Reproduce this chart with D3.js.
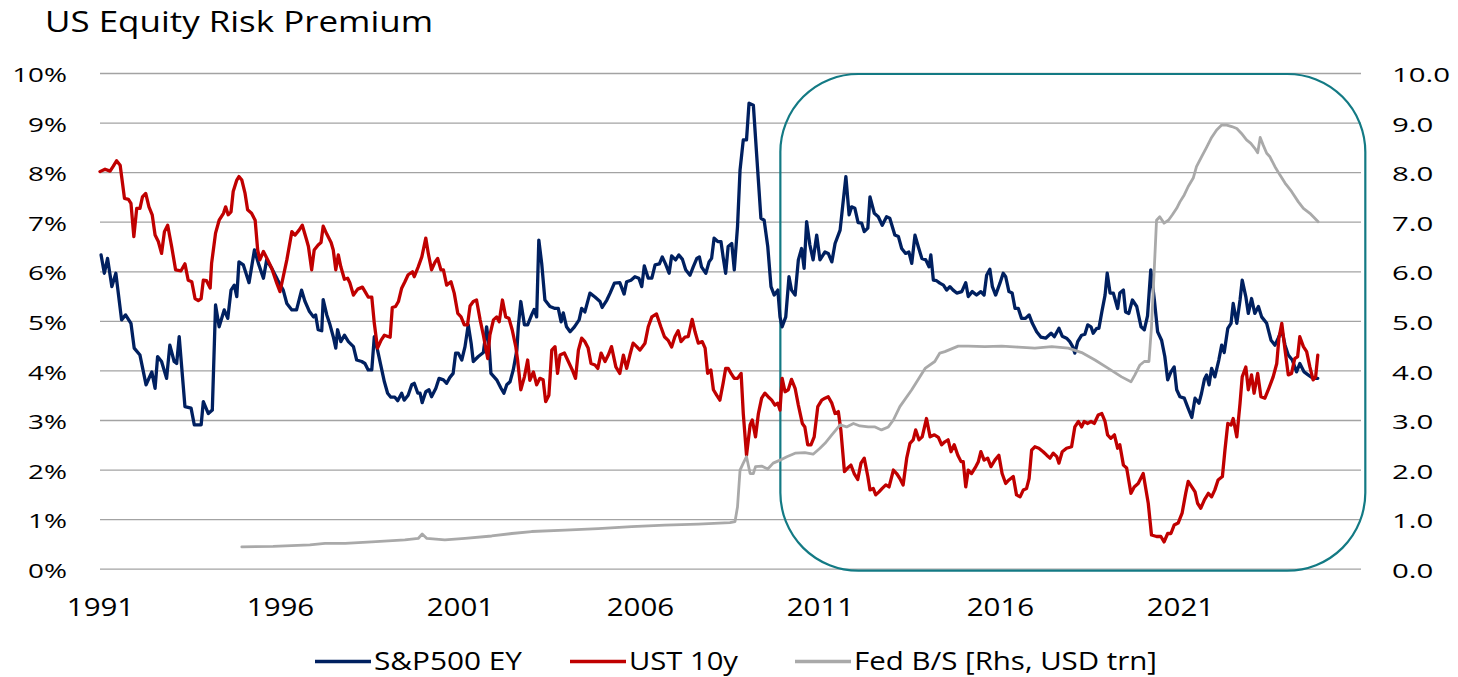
<!DOCTYPE html>
<html><head><meta charset="utf-8">
<script src="https://cdn.jsdelivr.net/npm/d3@7"></script>
<style>
html,body{margin:0;padding:0;background:#fff;}
svg{display:block;}
text{font-family:"Open Sans",sans-serif;fill:#000;}
</style></head><body>
<svg id="chart" width="1458" height="677"></svg>
<script>
// ---------- DATA ----------
const chartTitle = "US Equity Risk Premium";
const xTickYears = [1991, 1996, 2001, 2006, 2011, 2016, 2021];
const leftTicks = [0,1,2,3,4,5,6,7,8,9,10];      // % (left axis)
const rightTicks = [0,1,2,3,4,5,6,7,8,9,10];     // USD trn (right axis)
const seriesNames = ["S&P500 EY", "UST 10y", "Fed B/S [Rhs, USD trn]"];
const highlightYears = [2009.9, 2026.15];        // rounded box annotation

const spxEY = [[1991.03,6.33],[1991.12,5.96],[1991.21,6.26],[1991.33,5.69],[1991.44,5.96],[1991.60,5.02],[1991.71,5.12],[1991.86,4.95],[1991.95,4.45],[1992.11,4.31],[1992.28,3.71],[1992.44,3.97],[1992.53,3.64],[1992.60,4.28],[1992.71,4.18],[1992.85,3.84],[1992.94,4.51],[1993.06,4.18],[1993.13,4.14],[1993.20,4.68],[1993.36,3.27],[1993.53,3.24],[1993.62,2.90],[1993.81,2.90],[1993.87,3.37],[1994.01,3.13],[1994.12,3.20],[1994.21,5.32],[1994.31,4.88],[1994.45,5.22],[1994.55,5.05],[1994.64,5.62],[1994.73,5.72],[1994.80,5.49],[1994.86,6.19],[1994.98,6.13],[1995.14,5.77],[1995.29,6.43],[1995.40,6.16],[1995.54,5.86],[1995.63,6.23],[1995.77,6.06],[1995.94,5.82],[1996.09,5.62],[1996.19,5.35],[1996.33,5.22],[1996.46,5.22],[1996.60,5.62],[1996.69,5.40],[1996.81,5.20],[1996.93,5.08],[1996.99,5.12],[1997.06,4.82],[1997.16,4.80],[1997.20,5.43],[1997.30,5.12],[1997.39,4.92],[1997.48,4.68],[1997.55,4.45],[1997.60,4.82],[1997.69,4.58],[1997.79,4.71],[1997.90,4.58],[1998.04,4.48],[1998.13,4.21],[1998.27,4.18],[1998.36,4.14],[1998.45,4.01],[1998.55,4.01],[1998.62,4.68],[1998.71,4.41],[1998.81,4.07],[1998.90,3.77],[1998.99,3.54],[1999.08,3.46],[1999.19,3.46],[1999.27,3.39],[1999.38,3.54],[1999.45,3.40],[1999.56,3.50],[1999.66,3.71],[1999.73,3.74],[1999.83,3.54],[1999.89,3.54],[1999.95,3.35],[2000.05,3.57],[2000.14,3.61],[2000.21,3.47],[2000.33,3.64],[2000.42,3.84],[2000.54,3.81],[2000.63,3.74],[2000.72,3.86],[2000.81,3.94],[2000.88,4.35],[2000.95,4.35],[2001.05,4.21],[2001.14,4.48],[2001.23,4.92],[2001.31,4.55],[2001.37,4.18],[2001.51,4.28],[2001.65,4.36],[2001.74,4.88],[2001.81,4.48],[2001.86,3.94],[2002.02,3.81],[2002.14,3.64],[2002.22,3.54],[2002.30,3.71],[2002.39,3.77],[2002.48,4.01],[2002.58,4.41],[2002.62,4.88],[2002.69,5.39],[2002.79,4.92],[2002.88,4.92],[2002.99,5.12],[2003.06,5.23],[2003.13,5.08],[2003.19,6.63],[2003.27,6.16],[2003.36,5.42],[2003.50,5.29],[2003.64,5.25],[2003.73,5.25],[2003.81,4.98],[2003.87,5.16],[2003.96,4.88],[2004.06,4.78],[2004.18,4.88],[2004.31,5.02],[2004.38,5.25],[2004.47,5.18],[2004.61,5.56],[2004.75,5.48],[2004.89,5.39],[2004.95,5.27],[2005.08,5.42],[2005.17,5.56],[2005.29,5.76],[2005.44,5.77],[2005.56,5.54],[2005.63,5.79],[2005.75,5.82],[2005.86,5.89],[2005.97,5.86],[2006.05,5.69],[2006.12,6.11],[2006.23,5.86],[2006.33,5.86],[2006.42,6.13],[2006.54,6.15],[2006.62,6.29],[2006.71,6.15],[2006.81,5.96],[2006.88,6.31],[2006.99,6.23],[2007.08,6.33],[2007.18,6.24],[2007.27,6.03],[2007.39,5.92],[2007.48,6.09],[2007.58,6.26],[2007.65,6.29],[2007.71,6.09],[2007.83,5.96],[2007.92,6.19],[2007.99,6.26],[2008.06,6.67],[2008.16,6.60],[2008.25,6.60],[2008.31,6.29],[2008.38,5.96],[2008.45,6.50],[2008.55,6.56],[2008.62,6.03],[2008.71,6.90],[2008.78,8.04],[2008.87,8.65],[2008.96,8.65],[2009.03,9.39],[2009.15,9.35],[2009.24,8.37],[2009.36,7.07],[2009.45,7.03],[2009.55,6.50],[2009.64,5.69],[2009.73,5.52],[2009.83,5.62],[2009.89,5.08],[2009.95,4.88],[2010.05,5.08],[2010.14,5.89],[2010.21,5.62],[2010.31,5.52],[2010.40,6.23],[2010.49,6.46],[2010.56,6.06],[2010.63,7.00],[2010.72,6.53],[2010.81,6.23],[2010.91,6.73],[2011.00,6.23],[2011.14,6.39],[2011.23,6.36],[2011.33,6.19],[2011.42,6.56],[2011.56,6.83],[2011.62,7.24],[2011.72,7.91],[2011.81,7.14],[2011.88,7.30],[2011.97,7.27],[2012.06,6.98],[2012.16,6.97],[2012.23,6.80],[2012.33,6.87],[2012.39,7.50],[2012.51,7.17],[2012.62,7.10],[2012.73,6.93],[2012.85,7.10],[2012.94,7.07],[2013.08,6.73],[2013.18,6.70],[2013.27,6.46],[2013.38,6.36],[2013.47,6.39],[2013.55,6.16],[2013.64,6.73],[2013.73,6.50],[2013.83,6.26],[2013.94,6.23],[2014.03,6.09],[2014.08,6.33],[2014.15,5.82],[2014.24,5.81],[2014.33,5.76],[2014.43,5.72],[2014.52,5.62],[2014.61,5.69],[2014.70,5.62],[2014.80,5.56],[2014.94,5.59],[2015.05,5.77],[2015.12,5.49],[2015.23,5.59],[2015.35,5.52],[2015.47,5.59],[2015.56,5.52],[2015.63,5.92],[2015.72,6.04],[2015.79,5.69],[2015.88,5.52],[2016.00,5.76],[2016.09,5.96],[2016.16,5.89],[2016.25,5.59],[2016.34,5.56],[2016.42,5.25],[2016.51,5.25],[2016.60,5.05],[2016.71,5.05],[2016.81,5.12],[2016.90,4.95],[2017.02,4.78],[2017.14,4.67],[2017.27,4.65],[2017.42,4.75],[2017.51,4.68],[2017.64,4.85],[2017.73,4.69],[2017.85,4.65],[2017.94,4.58],[2018.02,4.48],[2018.08,4.35],[2018.16,4.58],[2018.27,4.71],[2018.36,4.73],[2018.44,4.92],[2018.53,4.88],[2018.59,4.75],[2018.69,4.85],[2018.75,4.85],[2018.83,5.18],[2018.92,5.52],[2018.98,5.96],[2019.06,5.56],[2019.15,5.56],[2019.27,5.25],[2019.33,5.56],[2019.43,5.62],[2019.49,5.18],[2019.58,5.15],[2019.68,5.42],[2019.80,5.29],[2019.92,4.88],[2020.01,4.82],[2020.10,5.10],[2020.19,6.03],[2020.29,5.42],[2020.38,4.78],[2020.49,4.61],[2020.58,4.28],[2020.66,3.81],[2020.75,3.97],[2020.84,4.07],[2020.91,3.61],[2021.00,3.47],[2021.12,3.44],[2021.21,3.27],[2021.33,3.05],[2021.42,3.44],[2021.53,3.34],[2021.60,3.54],[2021.68,3.82],[2021.74,3.91],[2021.81,3.71],[2021.88,4.04],[2021.97,3.87],[2022.08,4.21],[2022.16,4.51],[2022.23,4.36],[2022.33,4.85],[2022.42,4.95],[2022.48,5.35],[2022.58,4.95],[2022.67,5.42],[2022.73,5.82],[2022.83,5.49],[2022.90,5.15],[2022.99,5.45],[2023.08,5.15],[2023.18,5.29],[2023.27,5.08],[2023.41,4.95],[2023.53,4.61],[2023.64,4.51],[2023.73,4.65],[2023.83,4.82],[2023.92,4.51],[2024.01,4.31],[2024.12,4.21],[2024.24,3.97],[2024.33,4.14],[2024.45,3.97],[2024.56,3.91],[2024.70,3.84],[2024.83,3.84]];

const ust10y = [[1991.00,8.01],[1991.14,8.06],[1991.28,8.02],[1991.37,8.12],[1991.46,8.23],[1991.56,8.14],[1991.68,7.47],[1991.79,7.45],[1991.86,7.37],[1991.94,6.70],[1992.02,7.27],[1992.11,7.27],[1992.18,7.50],[1992.27,7.57],[1992.36,7.30],[1992.45,7.14],[1992.53,6.73],[1992.62,6.60],[1992.71,6.36],[1992.79,6.80],[1992.88,6.93],[1992.99,6.50],[1993.10,6.03],[1993.25,6.01],[1993.36,6.15],[1993.45,5.82],[1993.55,5.79],[1993.64,5.45],[1993.73,5.41],[1993.81,5.45],[1993.87,5.82],[1993.96,5.81],[1994.06,5.66],[1994.10,6.16],[1994.21,6.77],[1994.31,7.03],[1994.43,7.17],[1994.49,7.30],[1994.56,7.14],[1994.64,7.20],[1994.70,7.61],[1994.80,7.84],[1994.86,7.91],[1994.94,7.84],[1995.03,7.57],[1995.10,7.24],[1995.21,7.17],[1995.31,7.03],[1995.38,6.43],[1995.44,6.23],[1995.54,6.40],[1995.66,6.23],[1995.77,6.06],[1995.91,5.76],[1996.00,5.59],[1996.09,5.89],[1996.19,6.23],[1996.33,6.80],[1996.42,6.73],[1996.53,6.83],[1996.62,6.93],[1996.74,6.63],[1996.79,6.50],[1996.88,6.03],[1996.95,6.43],[1997.06,6.53],[1997.14,6.58],[1997.20,6.91],[1997.30,6.75],[1997.42,6.58],[1997.48,6.43],[1997.55,6.03],[1997.62,6.33],[1997.69,6.09],[1997.79,5.84],[1997.88,5.86],[1997.94,5.77],[1998.04,5.52],[1998.16,5.64],[1998.29,5.68],[1998.38,5.57],[1998.45,5.48],[1998.55,5.48],[1998.62,4.95],[1998.71,4.45],[1998.81,4.61],[1998.90,4.71],[1999.06,4.67],[1999.12,5.27],[1999.21,5.29],[1999.29,5.39],[1999.38,5.66],[1999.47,5.79],[1999.56,5.93],[1999.68,5.99],[1999.73,5.89],[1999.84,6.09],[1999.94,6.29],[2000.05,6.67],[2000.12,6.36],[2000.21,6.03],[2000.31,6.19],[2000.38,6.26],[2000.47,6.03],[2000.54,6.03],[2000.63,5.72],[2000.75,5.79],[2000.84,5.56],[2000.94,5.15],[2001.03,5.08],[2001.12,4.92],[2001.21,4.92],[2001.28,5.30],[2001.37,5.39],[2001.46,5.42],[2001.56,5.02],[2001.65,4.71],[2001.77,4.24],[2001.83,4.71],[2001.93,5.02],[2002.02,5.08],[2002.09,4.98],[2002.18,5.42],[2002.27,5.08],[2002.36,5.05],[2002.45,4.82],[2002.55,4.48],[2002.60,4.21],[2002.69,3.61],[2002.79,3.87],[2002.88,4.21],[2002.94,3.80],[2003.04,3.97],[2003.13,3.71],[2003.22,3.84],[2003.31,3.81],[2003.38,3.37],[2003.47,3.50],[2003.55,4.41],[2003.64,4.48],[2003.71,3.94],[2003.78,4.31],[2003.90,4.35],[2004.01,4.18],[2004.12,4.01],[2004.21,3.84],[2004.29,4.41],[2004.38,4.65],[2004.47,4.58],[2004.56,4.45],[2004.64,4.14],[2004.75,4.11],[2004.83,4.04],[2004.92,4.35],[2005.03,4.18],[2005.12,4.31],[2005.21,4.48],[2005.33,4.07],[2005.44,3.94],[2005.54,4.31],[2005.63,4.04],[2005.72,4.31],[2005.81,4.55],[2005.91,4.48],[2006.00,4.41],[2006.14,4.55],[2006.23,4.88],[2006.33,5.08],[2006.46,5.14],[2006.58,4.88],[2006.68,4.68],[2006.79,4.60],[2006.88,4.47],[2006.97,4.68],[2007.06,4.80],[2007.14,4.58],[2007.25,4.67],[2007.34,4.68],[2007.45,5.03],[2007.53,4.78],[2007.62,4.55],[2007.73,4.58],[2007.81,4.45],[2007.88,3.94],[2007.97,4.01],[2008.04,3.61],[2008.13,3.50],[2008.22,3.40],[2008.31,3.74],[2008.38,4.04],[2008.45,4.04],[2008.53,3.94],[2008.62,3.84],[2008.71,3.84],[2008.81,3.94],[2008.87,3.13],[2008.96,2.29],[2009.06,2.90],[2009.12,3.00],[2009.21,2.66],[2009.29,3.13],[2009.38,3.44],[2009.47,3.54],[2009.56,3.47],[2009.66,3.40],[2009.75,3.30],[2009.83,3.34],[2009.89,3.20],[2009.95,3.84],[2010.03,3.57],[2010.12,3.61],[2010.21,3.82],[2010.31,3.64],[2010.40,3.30],[2010.51,2.93],[2010.58,2.86],[2010.66,2.50],[2010.75,2.50],[2010.84,2.66],[2010.94,3.27],[2011.05,3.40],[2011.14,3.44],[2011.23,3.47],[2011.33,3.34],[2011.42,3.13],[2011.51,3.17],[2011.58,2.80],[2011.68,1.96],[2011.77,2.03],[2011.86,2.09],[2011.95,1.92],[2012.05,1.80],[2012.14,2.13],[2012.23,2.23],[2012.33,1.86],[2012.39,1.59],[2012.48,1.62],[2012.55,1.49],[2012.64,1.55],[2012.73,1.62],[2012.83,1.69],[2012.92,1.65],[2013.04,1.99],[2013.13,1.92],[2013.22,1.82],[2013.31,1.69],[2013.41,2.23],[2013.50,2.53],[2013.59,2.60],[2013.66,2.80],[2013.75,2.60],[2013.84,2.66],[2013.96,3.03],[2014.06,2.66],[2014.18,2.70],[2014.29,2.65],[2014.38,2.50],[2014.47,2.56],[2014.56,2.60],[2014.64,2.36],[2014.73,2.50],[2014.83,2.29],[2014.92,2.16],[2014.98,2.16],[2015.05,1.65],[2015.12,1.99],[2015.21,1.92],[2015.33,2.06],[2015.40,2.16],[2015.47,2.36],[2015.56,2.19],[2015.66,2.23],[2015.75,2.06],[2015.86,2.19],[2015.97,2.29],[2016.06,1.92],[2016.16,1.72],[2016.25,1.79],[2016.37,1.86],[2016.46,1.49],[2016.56,1.45],[2016.65,1.59],[2016.74,1.62],[2016.81,1.82],[2016.88,2.39],[2016.97,2.46],[2017.08,2.43],[2017.20,2.36],[2017.30,2.29],[2017.39,2.23],[2017.48,2.33],[2017.58,2.26],[2017.64,2.13],[2017.73,2.36],[2017.85,2.43],[2017.99,2.46],[2018.08,2.86],[2018.18,2.97],[2018.27,2.86],[2018.34,2.97],[2018.44,2.93],[2018.53,2.97],[2018.62,2.93],[2018.73,3.10],[2018.83,3.13],[2018.92,2.97],[2018.99,2.70],[2019.08,2.63],[2019.18,2.70],[2019.27,2.43],[2019.33,2.50],[2019.43,2.09],[2019.52,2.03],[2019.64,1.52],[2019.73,1.65],[2019.84,1.72],[2019.98,1.92],[2020.12,1.32],[2020.21,0.68],[2020.35,0.65],[2020.47,0.65],[2020.56,0.54],[2020.66,0.71],[2020.75,0.71],[2020.84,0.88],[2020.95,0.92],[2021.06,1.12],[2021.16,1.52],[2021.23,1.76],[2021.33,1.65],[2021.42,1.55],[2021.49,1.32],[2021.58,1.22],[2021.68,1.39],[2021.79,1.52],[2021.88,1.45],[2021.97,1.59],[2022.06,1.79],[2022.18,1.86],[2022.25,2.39],[2022.33,2.93],[2022.42,2.90],[2022.48,3.03],[2022.58,2.66],[2022.67,3.34],[2022.73,3.87],[2022.83,4.07],[2022.90,3.61],[2022.99,3.91],[2023.06,3.54],[2023.16,3.94],[2023.25,3.47],[2023.36,3.44],[2023.47,3.64],[2023.59,3.87],[2023.69,4.14],[2023.75,4.65],[2023.83,4.95],[2023.92,4.41],[2024.01,3.91],[2024.10,3.94],[2024.19,4.24],[2024.27,4.28],[2024.33,4.68],[2024.43,4.48],[2024.52,4.38],[2024.61,4.07],[2024.70,3.81],[2024.77,3.87],[2024.83,4.31]];

const fedBS = [[1994.94,0.44],[1995.81,0.45],[1996.83,0.48],[1997.25,0.51],[1997.81,0.51],[1998.55,0.54],[1999.47,0.58],[1999.84,0.61],[1999.95,0.70],[2000.08,0.61],[2000.58,0.58],[2001.14,0.61],[2001.88,0.66],[2002.44,0.71],[2002.99,0.75],[2003.92,0.78],[2004.84,0.81],[2005.77,0.85],[2006.69,0.88],[2007.62,0.90],[2008.50,0.93],[2008.64,0.95],[2008.71,1.25],[2008.78,1.99],[2008.87,2.13],[2008.96,2.26],[2009.06,1.92],[2009.15,1.92],[2009.21,2.06],[2009.38,2.07],[2009.55,2.01],[2009.70,2.13],[2009.89,2.19],[2010.08,2.26],[2010.31,2.33],[2010.58,2.34],[2010.81,2.31],[2011.00,2.43],[2011.14,2.53],[2011.33,2.70],[2011.56,2.90],[2011.74,2.86],[2011.93,2.93],[2012.11,2.88],[2012.34,2.86],[2012.53,2.86],[2012.71,2.80],[2012.90,2.86],[2013.04,3.00],[2013.22,3.27],[2013.55,3.61],[2013.92,4.04],[2014.19,4.18],[2014.33,4.35],[2014.47,4.38],[2014.84,4.49],[2015.12,4.49],[2015.58,4.48],[2016.05,4.49],[2016.51,4.47],[2016.97,4.45],[2017.44,4.48],[2017.90,4.45],[2018.27,4.36],[2018.64,4.21],[2019.01,4.04],[2019.38,3.87],[2019.64,3.77],[2019.75,3.91],[2019.89,4.11],[2020.01,4.18],[2020.14,4.18],[2020.21,4.88],[2020.29,6.09],[2020.35,7.03],[2020.44,7.10],[2020.56,6.97],[2020.68,7.03],[2020.79,7.14],[2020.91,7.27],[2021.00,7.40],[2021.12,7.54],[2021.23,7.71],[2021.37,7.88],[2021.46,8.11],[2021.60,8.31],[2021.74,8.50],[2021.88,8.70],[2022.02,8.85],[2022.16,8.95],[2022.30,8.95],[2022.44,8.92],[2022.58,8.88],[2022.71,8.78],[2022.85,8.65],[2022.97,8.58],[2023.08,8.48],[2023.16,8.39],[2023.23,8.70],[2023.31,8.55],[2023.41,8.38],[2023.50,8.31],[2023.64,8.11],[2023.78,7.94],[2023.92,7.78],[2024.10,7.61],[2024.29,7.40],[2024.43,7.27],[2024.61,7.17],[2024.84,7.00]];

// ---------- LAYOUT ----------
const colors = ["#002060", "#C00000", "#A9A9A9"];
const plot = {left: 100, right: 1361, top: 73, bottom: 568.7};
const svg = d3.select("#chart");
svg.append("rect").attr("width",1458).attr("height",677).attr("fill","#fff");

const x = d3.scaleLinear().domain([1991, 2026.03]).range([plot.left, plot.right]);
const yL = d3.scaleLinear().domain([0, 10]).range([plot.bottom, plot.top]);
const yR = d3.scaleLinear().domain([0, 10]).range([plot.bottom, plot.top]);

// gridlines
svg.append("g").attr("class","grid")
  .attr("transform", `translate(${plot.left},0)`)
  .call(d3.axisLeft(yL).tickValues(leftTicks).tickSize(-(plot.right-plot.left)).tickFormat(""))
  .call(g => g.select(".domain").remove())
  .call(g => g.selectAll("line").attr("stroke","#a3a3a3").attr("stroke-width",1.3));

// left axis labels
const sxL = 1.42;
svg.append("g").attr("transform", `translate(${plot.left},0)`)
  .call(d3.axisLeft(yL).tickValues(leftTicks).tickFormat(d => d + "%").tickSize(0).tickPadding(33))
  .call(g => g.select(".domain").remove())
  .call(g => g.selectAll("text")
     .attr("font-family","'Open Sans',sans-serif").attr("font-size",19.6).attr("fill","#000")
     .attr("x",0).attr("dy","0.44em")
     .attr("transform", `translate(-33,0) scale(${sxL},1)`));

// right axis labels
const sxR = 1.5;
svg.append("g").attr("transform", `translate(${plot.right},0)`)
  .call(d3.axisRight(yR).tickValues(rightTicks).tickFormat(d3.format(".1f")).tickSize(0).tickPadding(32))
  .call(g => g.select(".domain").remove())
  .call(g => g.selectAll("text")
     .attr("font-family","'Open Sans',sans-serif").attr("font-size",19.6).attr("fill","#000")
     .attr("x",0).attr("dy","0.44em")
     .attr("transform", `translate(31,0) scale(${sxR},1)`));

// bottom axis labels
const sxB = 1.18;
svg.append("g").attr("transform", `translate(0,${plot.bottom})`)
  .call(d3.axisBottom(x).tickValues(xTickYears).tickFormat(d3.format("d")).tickSize(0))
  .call(g => g.select(".domain").remove())
  .call(g => g.selectAll("text")
     .attr("font-family","'Open Sans',sans-serif").attr("font-size",25).attr("fill","#000")
     .attr("y",0).attr("dy",0)
     .attr("transform", `translate(0,47) scale(${sxB},1)`));

// highlight box
svg.append("rect")
  .attr("x", x(highlightYears[0])).attr("y", yL(10) + 1)
  .attr("width", x(highlightYears[1]) - x(highlightYears[0]))
  .attr("height", yL(0) - yL(10) + 1)
  .attr("rx", 78).attr("ry", 78)
  .attr("fill","none").attr("stroke","#137A84").attr("stroke-width",2.2);

// series
const lineL = d3.line().x(d => x(d[0])).y(d => yL(d[1])).curve(d3.curveLinear);
const lineR = d3.line().x(d => x(d[0])).y(d => yR(d[1])).curve(d3.curveLinear);
const gS = svg.append("g").attr("fill","none").attr("stroke-linejoin","round").attr("stroke-linecap","round");
gS.append("path").datum(spxEY).attr("d", lineL).attr("stroke", colors[0]).attr("stroke-width", 3.3);
gS.append("path").datum(ust10y).attr("d", lineL).attr("stroke", colors[1]).attr("stroke-width", 3.3);
gS.append("path").datum(fedBS).attr("d", lineR).attr("stroke", colors[2]).attr("stroke-width", 2.8);

// title
svg.append("text").attr("x", 45).attr("y", 32.3)
  .attr("font-size", 28.8).attr("textLength", 388).attr("lengthAdjust","spacingAndGlyphs")
  .text(chartTitle);

// legend
const legendX = [315, 570, 795];
const legendW = [148, 109, 303];
const lg = svg.append("g");
seriesNames.forEach((name, i) => {
  lg.append("line").attr("x1", legendX[i]).attr("x2", legendX[i] + 56)
    .attr("y1", 661.5).attr("y2", 661.5)
    .attr("stroke", colors[i]).attr("stroke-width", 3.4);
  lg.append("text").attr("x", legendX[i] + 59).attr("y", 670)
    .attr("font-size", 26).attr("textLength", legendW[i]).attr("lengthAdjust","spacingAndGlyphs")
    .text(name);
});
</script>
</body></html>
